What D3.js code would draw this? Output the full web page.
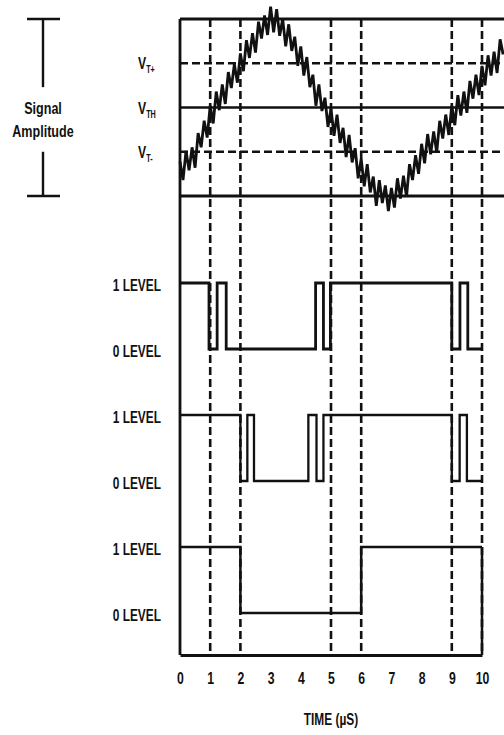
<!DOCTYPE html>
<html>
<head>
<meta charset="utf-8">
<script src="https://cdn.jsdelivr.net/npm/d3@7"></script>
<style>
  body { margin: 0; background: #fff; }
  svg { display: block; }
  text { font-family: "Liberation Sans", Arial, sans-serif; font-weight: bold; fill: #111; }
</style>
</head>
<body>
<svg id="chart"></svg>
<script>

// time axis, in µs
var timeTicks = [0, 1, 2, 3, 4, 5, 6, 7, 8, 9, 10];
var markerTimes = [1, 2, 5, 6, 9, 10];

// thresholds, in signal units (rails are +1 / -1)
var thresholdNames = ["T+", "TH", "T-"];
var thresholdValues = [0.5, 0, -0.5];
var railValues = [1, -1];

// noisy input, one sample every 0.1 µs starting at t = 0
var signalStep = 0.1;
var signalValues = [
  -0.61, -0.82, -0.49, -0.71, -0.45, -0.68, -0.29, -0.45, -0.15, -0.34,
   0.02, -0.18,  0.18, -0.03,  0.26,  0.04,  0.40,  0.22,  0.49,  0.28,
   0.61,  0.41,  0.76,  0.56,  0.84,  0.62,  0.97,  0.78,  1.04,  0.82,
   1.14,  0.85,  1.11,  0.81,  1.00,  0.69,  0.94,  0.64,  0.80,  0.47,
   0.69,  0.36,  0.57,  0.23,  0.37,  0.02,  0.26, -0.04,  0.11, -0.22,
  -0.01, -0.32, -0.08, -0.40, -0.23, -0.56, -0.31, -0.62, -0.46, -0.80,
  -0.58, -0.89, -0.64, -0.96, -0.78, -1.11, -0.82, -1.08, -0.88, -1.17,
  -0.91, -1.13, -0.80, -1.03, -0.77, -1.01, -0.64, -0.82, -0.54, -0.75,
  -0.41, -0.63, -0.30, -0.53, -0.27, -0.51, -0.15, -0.35, -0.08, -0.31,
   0.02, -0.20,  0.14, -0.09,  0.18, -0.06,  0.30,  0.10,  0.37,  0.14,
   0.47,  0.25,  0.59,  0.36,  0.63,  0.39,  0.77,  0.60
];

// outputs as [time, level] steps
var levelNames = ["1 LEVEL", "0 LEVEL"];
var outputNoHyst = [[0, 1], [0.96, 0], [1.23, 1], [1.53, 0], [4.49, 1], [4.75, 0], [4.98, 1],
                    [9.0, 0], [9.27, 1], [9.53, 0], [10, 0]];
var outputUpper = [[0, 1], [2.0, 0], [2.23, 1], [2.45, 0], [4.25, 1], [4.52, 0], [4.75, 1],
                   [9.0, 0], [9.26, 1], [9.5, 0], [10, 0]];
var outputHyst = [[0, 1], [2.0, 0], [6.0, 1], [10, 1]];
var outputs = [outputNoHyst, outputUpper, outputHyst];

var W = 504, H = 735;
var svg = d3.select("#chart").attr("width", W).attr("height", H);

var x = d3.scaleLinear().domain([0, 10]).range([180, 482]);
var yAmp = d3.scaleLinear().domain([-1, 1]).range([196, 19]);
// rows: 1 and 0 level of each output, top to bottom
var yRow = d3.scaleLinear().domain([0, 5]).range([283, 613]);
var axisY = 655;

function narrowText(g, str, tx, ty, size, anchor, sx) {
  return g.append("text")
    .attr("transform", "translate(" + tx + "," + ty + ") scale(" + (sx || 0.7) + ",1)")
    .attr("text-anchor", anchor)
    .attr("font-size", size)
    .text(str);
}

// dashed time markers
svg.append("g").selectAll("line")
  .data(markerTimes)
  .join("line")
  .attr("x1", d => x(d)).attr("x2", d => x(d))
  .attr("y1", yAmp(1)).attr("y2", axisY)
  .attr("stroke", "#111").attr("stroke-width", 2.6)
  .attr("stroke-dasharray", "8,4");

// rails and thresholds
svg.append("g").selectAll("line")
  .data(railValues)
  .join("line")
  .attr("x1", x(0)).attr("x2", W)
  .attr("y1", d => yAmp(d)).attr("y2", d => yAmp(d))
  .attr("stroke", "#111").attr("stroke-width", 2.8);

svg.append("g").selectAll("line")
  .data(thresholdValues)
  .join("line")
  .attr("x1", x(0)).attr("x2", W)
  .attr("y1", d => yAmp(d)).attr("y2", d => yAmp(d))
  .attr("stroke", "#111").attr("stroke-width", 2.5)
  .attr("stroke-dasharray", (d, i) => thresholdNames[i] === "TH" ? null : "8,4");

// threshold labels
var thr = svg.append("g");
thresholdValues.forEach(function(v, i) {
  var t = narrowText(thr, "", 138, yAmp(v) + 6, 17, "start", 0.72);
  t.append("tspan").text("V");
  t.append("tspan").attr("font-size", 10).attr("dy", 4).text(thresholdNames[i]);
});

// signal amplitude bracket
var br = svg.append("g").attr("stroke", "#111").attr("stroke-width", 2.4);
br.append("line").attr("x1", 27).attr("x2", 60).attr("y1", yAmp(1)).attr("y2", yAmp(1));
br.append("line").attr("x1", 43).attr("x2", 43).attr("y1", yAmp(1)).attr("y2", yAmp(0.23));
br.append("line").attr("x1", 43).attr("x2", 43).attr("y1", yAmp(-0.5)).attr("y2", yAmp(-1));
br.append("line").attr("x1", 27).attr("x2", 60).attr("y1", yAmp(-1)).attr("y2", yAmp(-1));
narrowText(svg, "Signal", 43, 114, 17, "middle", 0.74);
narrowText(svg, "Amplitude", 43, 137, 17, "middle", 0.74);

// noisy signal
var signalLine = d3.line()
  .x((d, i) => x(i * signalStep))
  .y(d => yAmp(d));
svg.append("path")
  .datum(signalValues)
  .attr("fill", "none")
  .attr("stroke", "#111")
  .attr("stroke-width", 2.8)
  .attr("stroke-linejoin", "miter")
  .attr("d", signalLine);

// digital outputs
var widths = [2.8, 2.3, 2.5];
outputs.forEach(function(data, p) {
  var step = d3.line()
    .curve(d3.curveStepAfter)
    .x(d => x(d[0]))
    .y(d => yRow(2 * p + 1 - d[1]));
  svg.append("path")
    .datum(data)
    .attr("fill", "none")
    .attr("stroke", "#111")
    .attr("stroke-width", widths[p])
    .attr("d", step);
  levelNames.forEach(function(name, k) {
    narrowText(svg, name, 161, yRow(2 * p + k) + 8, 17, "end");
  });
});

// closing edge of the last output down to the axis
svg.append("line")
  .attr("x1", x(10)).attr("x2", x(10))
  .attr("y1", yRow(4)).attr("y2", axisY)
  .attr("stroke", "#111").attr("stroke-width", 2.5);

// left frame
svg.append("line")
  .attr("x1", x(0)).attr("x2", x(0))
  .attr("y1", yAmp(1)).attr("y2", axisY)
  .attr("stroke", "#111").attr("stroke-width", 2.8);

// time axis
var ax = svg.append("g")
  .attr("transform", "translate(0," + axisY + ")")
  .call(d3.axisBottom(x).tickValues(timeTicks).tickSize(0).tickPadding(17));
ax.select(".domain").attr("stroke", "#111").attr("stroke-width", 2.8);
ax.selectAll("text")
  .attr("font-size", 17)
  .attr("font-family", "Liberation Sans, Arial, sans-serif")
  .attr("font-weight", "bold")
  .attr("fill", "#111")
  .attr("transform", "scale(0.72,1)");

narrowText(svg, "TIME (\u00b5S)", 331, 725, 17, "middle");

</script>
</body>
</html>
